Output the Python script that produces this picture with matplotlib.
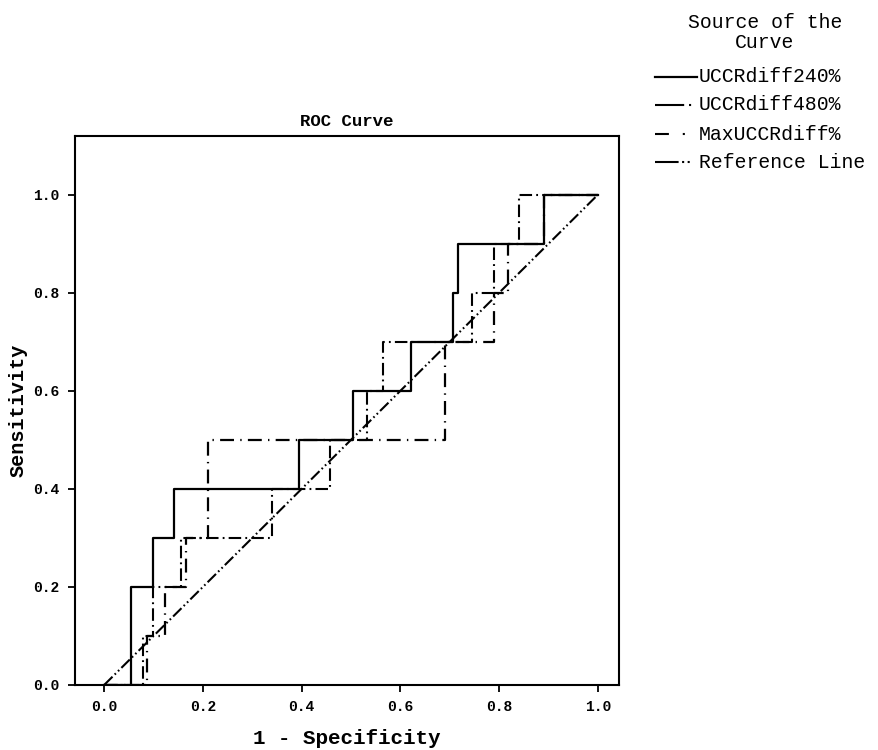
import matplotlib
matplotlib.use("Agg")
import matplotlib.pyplot as plt
from matplotlib.lines import Line2D

plt.rcParams["lines.scale_dashes"] = False

# ---- data ----
x_240 = [0, 0.055, 0.055, 0.098, 0.098, 0.141, 0.141, 0.394, 0.394, 0.504, 0.504,
         0.621, 0.621, 0.707, 0.707, 0.717, 0.717, 0.892, 0.892, 1.0]
y_240 = [0, 0, 0.2, 0.2, 0.3, 0.3, 0.4, 0.4, 0.5, 0.5, 0.6,
         0.6, 0.7, 0.7, 0.8, 0.8, 0.9, 0.9, 1.0, 1.0]

x_480 = [0, 0.078, 0.078, 0.100, 0.100, 0.155, 0.155, 0.340, 0.340, 0.457, 0.457,
         0.533, 0.533, 0.565, 0.565, 0.745, 0.745, 0.790, 0.790, 0.840, 0.840, 1.0]
y_480 = [0, 0, 0.1, 0.1, 0.2, 0.2, 0.3, 0.3, 0.4, 0.4, 0.5,
         0.5, 0.6, 0.6, 0.7, 0.7, 0.8, 0.8, 0.9, 0.9, 1.0, 1.0]

x_max = [0, 0.087, 0.087, 0.123, 0.123, 0.165, 0.165, 0.210, 0.210, 0.690, 0.690,
         0.790, 0.790, 0.818, 0.818, 0.892, 0.892, 1.0]
y_max = [0, 0, 0.1, 0.1, 0.2, 0.2, 0.3, 0.3, 0.5, 0.5, 0.7,
         0.7, 0.8, 0.8, 0.9, 0.9, 1.0, 1.0]

x_ref = [0, 1]
y_ref = [0, 1]

ticks = [0.0, 0.2, 0.4, 0.6, 0.8, 1.0]
tick_labels = ["0.0", "0.2", "0.4", "0.6", "0.8", "1.0"]
series_names = ["UCCRdiff240%", "UCCRdiff480%", "MaxUCCRdiff%", "Reference Line"]

FONT = "Liberation Mono"
W, H = 879, 750
fig = plt.figure(figsize=(W / 100, H / 100), dpi=100)
fig.patch.set_facecolor("white")

# axes box in pixels: left 75, right 619, top 136, bottom 685
L, R, T, B = 75, 619, 136, 685
ax = fig.add_axes([L / W, 1 - B / H, (R - L) / W, (B - T) / H])

styles = {
    "240": dict(color="black", lw=1.6, linestyle="-"),
    "480": dict(color="black", lw=1.5, linestyle=(0, (9, 3, 1.3, 3))),
    "max": dict(color="black", lw=1.6, linestyle=(0, (10, 4.5, 1.0, 4.5))),
    "ref": dict(color="black", lw=1.5, linestyle=(0, (8.5, 2.2, 1.2, 2.2, 1.2, 2.2))),
}

ax.plot(x_ref, y_ref, **styles["ref"])
ax.plot(x_max, y_max, **styles["max"])
ax.plot(x_480, y_480, **styles["480"])
ax.plot(x_240, y_240, **styles["240"])

ax.set_xlim(-0.059, 1.043)
ax.set_ylim(0.0, 1.12)
ax.set_xticks(ticks)
ax.set_xticklabels(tick_labels)
ax.set_yticks(ticks)
ax.set_yticklabels(tick_labels)
ax.tick_params(direction="out", length=5, width=1.3, labelsize=10.5, pad=6)
for lab in ax.get_xticklabels() + ax.get_yticklabels():
    lab.set_fontfamily(FONT)
    lab.set_fontweight("bold")
for s in ax.spines.values():
    s.set_linewidth(1.5)

ax.set_ylabel("Sensitivity", fontfamily=FONT, fontweight="bold", fontsize=14.5, labelpad=4)

fig.text(347 / W, 1 - 738 / H, "1 - Specificity", fontfamily=FONT, fontweight="bold",
         fontsize=15, ha="center", va="center")

fig.text(347 / W, 1 - 121 / H, "ROC Curve", fontfamily=FONT, fontweight="bold",
         fontsize=12.5, ha="center", va="center")

# legend (manual, outside at right)
LEG_FS = 14.2
fig.text(765 / W, 1 - 22 / H, "Source of the", fontfamily=FONT, fontsize=LEG_FS,
         ha="center", va="center")
fig.text(765 / W, 1 - 42 / H, "Curve", fontfamily=FONT, fontsize=LEG_FS,
         ha="center", va="center")

leg_y = [77, 105, 134, 162]
leg_styles = [
    dict(color="black", lw=1.6, linestyle="-"),
    dict(color="black", lw=1.5, linestyle=(0, (21, 3.5, 1.5, 30))),
    dict(color="black", lw=1.5, linestyle=(0, (10, 10, 1.5, 30))),
    dict(color="black", lw=1.5, linestyle=(0, (17, 2.5, 1.5, 2.5, 1.5, 30))),
]
for yy, name, st in zip(leg_y, series_names, leg_styles):
    yf = 1 - yy / H
    fig.add_artist(Line2D([655 / W, 697 / W], [yf, yf], transform=fig.transFigure, **st))
    fig.text(699 / W, yf, name, fontfamily=FONT, fontsize=LEG_FS, ha="left", va="center")

fig.savefig("out.png", dpi=100, facecolor="white")
